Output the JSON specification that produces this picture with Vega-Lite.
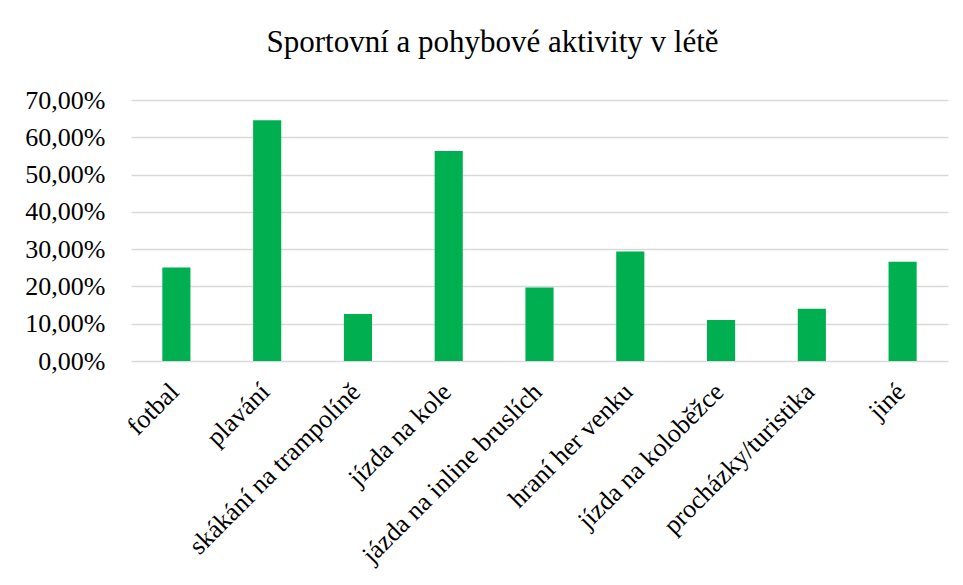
{
  "$schema": "https://vega.github.io/schema/vega-lite/v6.json",
  "autosize": {"type": "none"},
  "width": 817,
  "height": 261,
  "padding": {"left": 131, "top": 100, "right": 15, "bottom": 224},
  "background": "white",
  "title": {
    "text": "Sportovní a pohybové aktivity v létě",
    "font": "Liberation Serif",
    "fontSize": 31,
    "fontWeight": "normal",
    "color": "#000000",
    "anchor": "middle",
    "dx": -47,
    "offset": 28
  },
  "data": {
    "values": [
      {"aktivita": "fotbal", "podil": 0.251},
      {"aktivita": "plavání", "podil": 0.646},
      {"aktivita": "skákání na trampolíně", "podil": 0.126},
      {"aktivita": "jízda na kole", "podil": 0.563},
      {"aktivita": "jázda na inline bruslích", "podil": 0.197},
      {"aktivita": "hraní her venku", "podil": 0.294},
      {"aktivita": "jízda na koloběžce", "podil": 0.110},
      {"aktivita": "procházky/turistika", "podil": 0.140},
      {"aktivita": "jiné", "podil": 0.266}
    ]
  },
  "mark": {"type": "bar", "color": "#00B050"},
  "encoding": {
    "x": {
      "field": "aktivita",
      "type": "nominal",
      "sort": null,
      "title": null,
      "scale": {"paddingInner": 0.69, "paddingOuter": 0.345},
      "axis": {
        "labelAngle": -45,
        "labelAlign": "right",
        "labelBaseline": "alphabetic",
        "labelPadding": 32,
        "labelOffset": 4,
        "labelFont": "Liberation Serif",
        "labelFontSize": 26,
        "labelColor": "#000000",
        "labelOverlap": false,
        "labelLimit": 400,
        "ticks": false,
        "domain": false,
        "grid": false
      }
    },
    "y": {
      "field": "podil",
      "type": "quantitative",
      "title": null,
      "scale": {"domain": [0, 0.7], "nice": false},
      "axis": {
        "values": [0, 0.1, 0.2, 0.3, 0.4, 0.5, 0.6, 0.7],
        "labelExpr": "replace(format(datum.value, '.2%'), '.', ',')",
        "labelFont": "Liberation Serif",
        "labelFontSize": 26,
        "labelColor": "#000000",
        "labelPadding": 26,
        "ticks": false,
        "domain": false,
        "grid": true,
        "gridColor": "#D9D9D9",
        "gridWidth": 1.5
      }
    }
  },
  "config": {"view": {"stroke": null}}
}
